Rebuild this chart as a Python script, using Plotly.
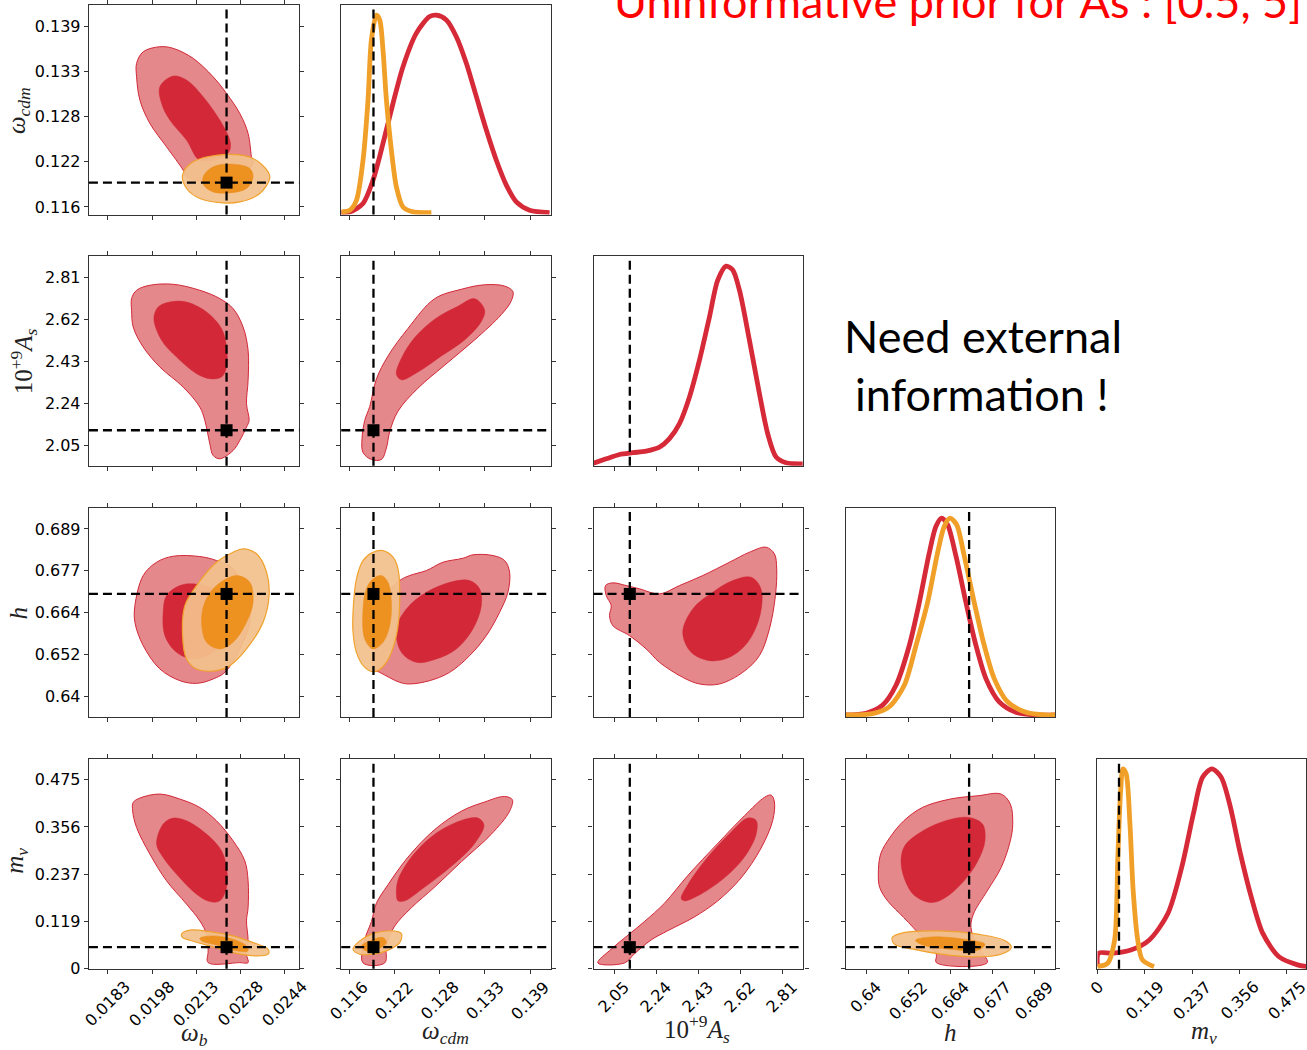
import plotly.graph_objects as go

W, H = 1307, 1050
# vertical extent used to convert pixel rows into paper fractions
H_DRAW = 1039

# ---------------- parameter axes: ticks, labels, fiducial values ----------------
WB_TICKS = [0.01832, 0.019833, 0.021346, 0.022859, 0.024372]
WB_LABELS = ["0.0183", "0.0198", "0.0213", "0.0228", "0.0244"]
WCDM_TICKS = [0.116, 0.12175, 0.1275, 0.13325, 0.139]
WCDM_LABELS = ["0.116", "0.122", "0.128", "0.133", "0.139"]
AS_TICKS = [2.05, 2.24, 2.43, 2.62, 2.81]
AS_LABELS = ["2.05", "2.24", "2.43", "2.62", "2.81"]
H_TICKS = [0.64, 0.65225, 0.6645, 0.67675, 0.689]
H_LABELS = ["0.64", "0.652", "0.664", "0.677", "0.689"]
MNU_TICKS = [0.0, 0.11875, 0.2375, 0.35625, 0.475]
MNU_LABELS = ["0", "0.119", "0.237", "0.356", "0.475"]

FIDUCIAL = {"wb": 0.02238, "wcdm": 0.1191, "As": 2.12, "h": 0.67, "mnu": 0.054}

# axis ranges (x for columns, y for rows)
X_RANGE = {"wb": [0.01767, 0.024868], "wcdm": [0.115011, 0.141662],
           "As": [1.95602, 2.90488], "h": [0.634021, 0.695126], "mnu": [0.0, 0.5229]}
Y_RANGE = {"wcdm": [0.115029, 0.141735], "As": [1.95952, 2.90636],
           "h": [0.634065, 0.695051], "mnu": [0.0, 0.52683]}
PDF_RANGE = [-0.01, 1.05]

# ---------------- 2-D credible regions (outer = 95%, inner = 68%) ----------------
# omega_b vs omega_cdm
wb_wcdm_red95_x = [0.019301, 0.019527, 0.020098, 0.020553, 0.021236, 0.02192, 0.022378, 0.022833, 0.023117,
                   0.023233, 0.023288, 0.022594, 0.021011, 0.020895, 0.020327, 0.019756, 0.019414, 0.019301]
wb_wcdm_red95_y = [0.134324, 0.135806, 0.136445, 0.13624, 0.134963, 0.132611, 0.13049, 0.127935, 0.125379,
                   0.122389, 0.121546, 0.119412, 0.119833, 0.120689, 0.123667, 0.126657, 0.129634, 0.132611]
wb_wcdm_red68_x = [0.020098, 0.020553, 0.021011, 0.021578, 0.022149, 0.022491, 0.022491, 0.022262, 0.021465,
                   0.021011, 0.02044, 0.020156]
wb_wcdm_red68_y = [0.131333, 0.132701, 0.13219, 0.130056, 0.127079, 0.124523, 0.123245, 0.122389, 0.121967,
                   0.124523, 0.127079, 0.129212]
wb_wcdm_ora95_x = [0.020874, 0.021236, 0.022378, 0.023288, 0.023801, 0.023859, 0.023517, 0.022833, 0.022262,
                   0.021465, 0.021011]
wb_wcdm_ora95_y = [0.120051, 0.12175, 0.122696, 0.122184, 0.120472, 0.119629, 0.117712, 0.116639, 0.116511,
                   0.117073, 0.118351]
wb_wcdm_ora68_x = [0.021578, 0.02192, 0.022604, 0.023175, 0.023288, 0.023062, 0.022491, 0.02192, 0.021602]
wb_wcdm_ora68_y = [0.119833, 0.121111, 0.121456, 0.120907, 0.119833, 0.118351, 0.117789, 0.117917, 0.118773]

# omega_b vs 10^9 A_s
wb_as_red95_x = [0.01913, 0.019301, 0.019756, 0.020553, 0.021465, 0.022149, 0.022604, 0.022946, 0.023117,
                 0.023117, 0.023062, 0.023151, 0.023062, 0.022833, 0.022604, 0.022149, 0.02192, 0.021807,
                 0.021636, 0.021465, 0.020895, 0.020098, 0.019527, 0.019185, 0.01913]
wb_as_red95_y = [2.715, 2.7525, 2.7752, 2.7797, 2.7525, 2.715, 2.6698, 2.5865, 2.4811, 2.3454, 2.24, 2.1645,
                 2.1341, 2.074, 2.0287, 1.9912, 2.0061, 2.059, 2.1645, 2.2246, 2.3151, 2.4056, 2.496, 2.5865,
                 2.6621]
wb_as_red68_x = [0.019893, 0.02004, 0.02044, 0.021011, 0.021695, 0.022207, 0.022378, 0.022378, 0.022207,
                 0.021807, 0.021353, 0.020669, 0.020156]
wb_as_red68_y = [2.6245, 2.677, 2.6996, 2.6996, 2.6544, 2.5793, 2.496, 2.4056, 2.3603, 2.3531, 2.3757,
                 2.4508, 2.5264]

# omega_cdm vs 10^9 A_s
wcdm_as_red95_x = [0.117775, 0.11884, 0.120108, 0.120742, 0.12116, 0.122213, 0.124749, 0.128134, 0.131937,
                   0.135323, 0.136591, 0.136794, 0.135741, 0.133205, 0.130251, 0.126866, 0.123481, 0.120945,
                   0.119474, 0.118625, 0.117991, 0.117648]
wcdm_as_red95_y = [2.0192, 1.988, 1.988, 2.04, 2.1129, 2.2061, 2.3101, 2.4142, 2.5282, 2.6426, 2.705, 2.7467,
                   2.7715, 2.7774, 2.7571, 2.7146, 2.5802, 2.4553, 2.3517, 2.2269, 2.1645, 2.0817]
wcdm_as_red68_x = [0.12201, 0.122644, 0.12433, 0.126866, 0.12982, 0.131937, 0.133205, 0.132787, 0.13067,
                   0.127715, 0.124749, 0.122644]
wcdm_as_red68_y = [2.3725, 2.4449, 2.5386, 2.6218, 2.6802, 2.7146, 2.6634, 2.6114, 2.5282, 2.4553, 2.383,
                   2.3477]

# omega_b vs h
wb_h_red95_x = [0.019243, 0.019527, 0.019985, 0.020553, 0.021465, 0.022036, 0.022604, 0.023062, 0.023175,
                0.022378, 0.02192, 0.021353, 0.020782, 0.020098, 0.019527, 0.019243]
wb_h_red95_y = [0.6666, 0.67538, 0.67926, 0.68102, 0.68093, 0.67976, 0.67733, 0.66953, 0.66172, 0.6476,
                0.64517, 0.64389, 0.64468, 0.6481, 0.65491, 0.66172]
wb_h_red68_x = [0.020211, 0.020327, 0.020782, 0.021236, 0.02192, 0.022378, 0.022491, 0.02192, 0.021236,
                0.020669, 0.020269]
wb_h_red68_y = [0.66465, 0.66953, 0.67245, 0.67295, 0.67149, 0.6666, 0.65979, 0.65295, 0.65102, 0.65295,
                0.65783]
wb_h_ora95_x = [0.020874, 0.020953, 0.021353, 0.022036, 0.022604, 0.022946, 0.023404, 0.02375, 0.023835,
                0.02363, 0.023062, 0.022491, 0.022036, 0.021353, 0.021011]
wb_h_ora95_y = [0.65783, 0.6666, 0.67245, 0.67926, 0.68219, 0.68318, 0.68172, 0.67634, 0.66953, 0.66172,
                0.65395, 0.64906, 0.6476, 0.6481, 0.65102]
wb_h_ora68_x = [0.021524, 0.021636, 0.022036, 0.02272, 0.023175, 0.023288, 0.023062, 0.022604, 0.022149,
                0.021695]
wb_h_ora68_y = [0.66172, 0.66757, 0.67245, 0.67538, 0.67342, 0.66757, 0.66172, 0.65588, 0.65395, 0.65588]

# omega_cdm vs h
wcdm_h_red95_x = [0.119892, 0.122428, 0.123696, 0.126232, 0.128768, 0.131303, 0.133421, 0.135107, 0.13616,
                  0.136375, 0.135741, 0.134258, 0.131722, 0.130454, 0.127918, 0.125814, 0.123696, 0.122428,
                  0.120742, 0.119474, 0.119043]
wcdm_h_red95_y = [0.6471, 0.64418, 0.64371, 0.64468, 0.6471, 0.65199, 0.65783, 0.66465, 0.67049, 0.67634,
                  0.67976, 0.68122, 0.68143, 0.68043, 0.67926, 0.67684, 0.67538, 0.67391, 0.66953, 0.65491,
                  0.6481]
wcdm_h_red68_x = [0.12201, 0.123278, 0.125814, 0.129186, 0.131303, 0.132571, 0.132787, 0.131722, 0.129617,
                  0.127081, 0.124546, 0.122644]
wcdm_h_red68_y = [0.65979, 0.66564, 0.67049, 0.67362, 0.67391, 0.67149, 0.6666, 0.65979, 0.65395, 0.65102,
                  0.65003, 0.65295]
wcdm_h_ora95_x = [0.116507, 0.116938, 0.117775, 0.119043, 0.120311, 0.121579, 0.122213, 0.122428, 0.12201,
                  0.120742, 0.119259, 0.117991, 0.116938, 0.116507]
wcdm_h_ora95_y = [0.66465, 0.67441, 0.67976, 0.68219, 0.68268, 0.68073, 0.67733, 0.66757, 0.65783, 0.65003,
                  0.64731, 0.64857, 0.65295, 0.6588]
wcdm_h_ora68_x = [0.117775, 0.118206, 0.119043, 0.120108, 0.120945, 0.121376, 0.12116, 0.120311, 0.119043,
                  0.117991]
wcdm_h_ora68_y = [0.66564, 0.67149, 0.67441, 0.67538, 0.67342, 0.66757, 0.66076, 0.65588, 0.65395, 0.65687]

# 10^9 A_s vs h
as_h_red95_x = [2.0102, 2.0432, 2.1038, 2.1639, 2.2542, 2.3446, 2.4499, 2.5705, 2.6609, 2.7363, 2.7739,
                2.7842, 2.7784, 2.7513, 2.7061, 2.6306, 2.5253, 2.435, 2.3595, 2.2542, 2.1941, 2.1187, 2.0432,
                2.0283, 2.036, 2.0134]
as_h_red95_y = [0.67245, 0.67324, 0.67245, 0.67149, 0.67003, 0.67245, 0.67538, 0.67926, 0.68219, 0.68365,
                0.68172, 0.67733, 0.66953, 0.65979, 0.65199, 0.6471, 0.64371, 0.64371, 0.64564, 0.65003,
                0.65395, 0.65783, 0.66076, 0.66368, 0.6666, 0.66953]
as_h_red68_x = [2.3595, 2.4047, 2.4951, 2.5854, 2.6686, 2.7129, 2.7084, 2.6532, 2.5705, 2.4802, 2.3975]
as_h_red68_y = [0.6588, 0.66564, 0.67049, 0.67391, 0.67488, 0.67149, 0.66368, 0.65588, 0.65149, 0.65052,
                0.65295]

# omega_b vs m_nu
wb_mnu_red95_x = [0.019185, 0.019414, 0.020098, 0.020782, 0.021465, 0.022036, 0.022604, 0.023004, 0.023117,
                  0.023117, 0.023062, 0.023117, 0.023062, 0.023117, 0.022833, 0.021749, 0.021749, 0.021695,
                  0.021465, 0.021011, 0.020327, 0.019756, 0.019301, 0.019165]
wb_mnu_red95_y = [0.41764, 0.42871, 0.43877, 0.42619, 0.40506, 0.3716, 0.32128, 0.27096, 0.22064, 0.15347,
                  0.12001, 0.06969, 0.03623, 0.0151, 0.0151, 0.0151, 0.04453, 0.08655, 0.12001, 0.16202,
                  0.22064, 0.28782, 0.35474, 0.39676]
wb_mnu_red68_x = [0.019985, 0.020211, 0.020553, 0.021011, 0.021695, 0.022207, 0.022378, 0.022378, 0.022149,
                  0.021807, 0.021353, 0.020669, 0.020211]
wb_mnu_red68_y = [0.31298, 0.3633, 0.37839, 0.3716, 0.33814, 0.29612, 0.25411, 0.20379, 0.17033, 0.16857,
                  0.18718, 0.2375, 0.27926]
wb_mnu_ora95_x = [0.02084, 0.021124, 0.021807, 0.022604, 0.023288, 0.023801, 0.023801, 0.023404, 0.022604,
                  0.021807, 0.021124, 0.020874]
wb_mnu_ora95_y = [0.08655, 0.09661, 0.09309, 0.08227, 0.06541, 0.04881, 0.03623, 0.03195, 0.04025, 0.05711,
                  0.07145, 0.07799]
wb_mnu_ora68_x = [0.021465, 0.02192, 0.022604, 0.023062, 0.023117, 0.022604, 0.022036, 0.021524]
wb_mnu_ora68_y = [0.07648, 0.08227, 0.07397, 0.05711, 0.04453, 0.04629, 0.05963, 0.06969]

# omega_cdm vs m_nu
wcdm_mnu_red95_x = [0.117775, 0.117991, 0.11884, 0.119474, 0.120945, 0.123481, 0.126866, 0.130251, 0.133205,
                    0.135741, 0.136718, 0.136375, 0.134055, 0.130251, 0.126866, 0.123912, 0.121794, 0.120742,
                    0.120526]
wcdm_mnu_red95_y = [0.01434, 0.07221, 0.1185, 0.16454, 0.21083, 0.28027, 0.34946, 0.39575, 0.4189, 0.43273,
                    0.42468, 0.39575, 0.33789, 0.2687, 0.20505, 0.15297, 0.10693, 0.06063, 0.01434]
wcdm_mnu_red68_x = [0.12201, 0.122213, 0.123912, 0.126866, 0.130251, 0.132356, 0.133117, 0.131937, 0.128983,
                    0.125598, 0.123062, 0.122213]
wcdm_mnu_red68_y = [0.18769, 0.2224, 0.28027, 0.33789, 0.3726, 0.37839, 0.36103, 0.31474, 0.25713, 0.20505,
                    0.17033, 0.17033]
wcdm_mnu_ora95_x = [0.116507, 0.117357, 0.119043, 0.121579, 0.122644, 0.122428, 0.120742, 0.119043, 0.117357]
wcdm_mnu_ora95_y = [0.04881, 0.06969, 0.08806, 0.09485, 0.08806, 0.06541, 0.04453, 0.03623, 0.03623]
wcdm_mnu_ora68_x = [0.117572, 0.118625, 0.120311, 0.120742, 0.119677, 0.118206]
wcdm_mnu_ora68_y = [0.05711, 0.06969, 0.07799, 0.06541, 0.04881, 0.04453]

# 10^9 A_s vs m_nu
as_mnu_red95_x = [1.9754, 2.036, 2.111, 2.1865, 2.2768, 2.3821, 2.5177, 2.6383, 2.7287, 2.7589, 2.7739,
                  2.7662, 2.7138, 2.6234, 2.5177, 2.4124, 2.2917, 2.2167, 2.1413, 2.0961]
as_mnu_red95_y = [0.01434, 0.04906, 0.08378, 0.1185, 0.16454, 0.23398, 0.31474, 0.38418, 0.43047, 0.43626,
                  0.4189, 0.3726, 0.30317, 0.22819, 0.17033, 0.13007, 0.09535, 0.07221, 0.03749, 0.01434]
as_mnu_red68_x = [2.3523, 2.3821, 2.4725, 2.5782, 2.6532, 2.6912, 2.6912, 2.6383, 2.5479, 2.4426, 2.3672]
as_mnu_red68_y = [0.17611, 0.21083, 0.28027, 0.34367, 0.37839, 0.3726, 0.33789, 0.28027, 0.22819, 0.18769,
                  0.17033]

# h vs m_nu
h_mnu_red95_x = [0.6435, 0.64417, 0.64688, 0.65094, 0.65636, 0.66447, 0.67258, 0.67935, 0.68203, 0.68273,
                 0.68203, 0.67935, 0.67529, 0.67124, 0.67054, 0.67238, 0.67529, 0.66042, 0.66042, 0.65636,
                 0.65094, 0.64621, 0.64391]
h_mnu_red95_y = [0.2375, 0.28782, 0.32958, 0.3716, 0.40506, 0.42619, 0.4345, 0.43877, 0.41361, 0.3633,
                 0.32128, 0.25411, 0.19549, 0.13686, 0.10315, 0.05711, 0.0151, 0.0151, 0.03623, 0.07799,
                 0.12831, 0.17033, 0.20379]
h_mnu_red68_x = [0.65027, 0.65094, 0.65499, 0.6631, 0.66987, 0.67392, 0.67462, 0.67258, 0.66853, 0.6631,
                 0.65905, 0.65365]
h_mnu_red68_y = [0.25411, 0.30442, 0.33814, 0.3716, 0.3799, 0.3633, 0.32128, 0.27096, 0.22064, 0.17863,
                 0.16605, 0.18718]
h_mnu_ora95_x = [0.64755, 0.65094, 0.66176, 0.67258, 0.68069, 0.68232, 0.67935, 0.67124, 0.66176, 0.65365,
                 0.64825]
h_mnu_ora95_y = [0.07799, 0.09057, 0.09485, 0.08655, 0.06969, 0.05283, 0.03623, 0.02944, 0.03623, 0.04881,
                 0.06139]
h_mnu_ora68_x = [0.65432, 0.65905, 0.66853, 0.67462, 0.67258, 0.66447, 0.65636]
h_mnu_ora68_y = [0.07145, 0.07975, 0.07397, 0.06139, 0.04629, 0.04881, 0.05963]

# ---------------- 1-D marginalised posteriors (normalised to peak = 1) ----------------
wcdm_red_x = [0.115011, 0.116089, 0.117775, 0.119043, 0.120311, 0.121579, 0.122847, 0.124546, 0.126232,
              0.127081, 0.128349, 0.129617, 0.130885, 0.132153, 0.133421, 0.134689, 0.135957, 0.137225,
              0.138911, 0.141447]
wcdm_red_p = [0.0, 0.003, 0.046, 0.164, 0.35, 0.553, 0.739, 0.909, 0.993, 1.0, 0.976, 0.891, 0.756, 0.587,
              0.418, 0.265, 0.139, 0.054, 0.012, 0.0]
wcdm_ora_x = [0.115036, 0.116089, 0.116938, 0.117775, 0.118409, 0.11884, 0.119474, 0.119892, 0.120311,
              0.120742, 0.121376, 0.12201, 0.122847, 0.124115, 0.126448]
wcdm_ora_p = [0.003, 0.012, 0.062, 0.265, 0.57, 0.875, 1.0, 0.976, 0.822, 0.57, 0.316, 0.13, 0.028, 0.003,
              0.0]

as_red_x = [1.956, 2.0134, 2.0735, 2.1336, 2.1941, 2.2542, 2.2994, 2.3446, 2.3898, 2.435, 2.4802, 2.5177,
            2.5556, 2.5854, 2.6157, 2.6609, 2.7061, 2.7436, 2.7815, 2.8267, 2.9017]
as_red_p = [0.003, 0.025, 0.047, 0.056, 0.064, 0.084, 0.127, 0.203, 0.338, 0.524, 0.743, 0.929, 1.0, 0.98,
            0.878, 0.625, 0.355, 0.152, 0.034, 0.005, 0.0]

h_red_x = [0.63408, 0.63991, 0.64475, 0.64866, 0.65254, 0.65546, 0.65838, 0.66033, 0.66196, 0.66371,
           0.66616, 0.66908, 0.672, 0.67491, 0.67879, 0.68366, 0.68949, 0.69512]
h_red_p = [0.0, 0.009, 0.05, 0.151, 0.353, 0.571, 0.824, 0.958, 1.0, 0.967, 0.807, 0.571, 0.353, 0.185,
           0.067, 0.014, 0.0, 0.0]
h_ora_x = [0.63408, 0.64184, 0.64671, 0.65108, 0.6545, 0.65788, 0.6608, 0.66275, 0.66441, 0.66634, 0.66858,
           0.6715, 0.67442, 0.67733, 0.68121, 0.68658, 0.69241, 0.69512]
h_ora_p = [0.0, 0.007, 0.042, 0.151, 0.353, 0.571, 0.824, 0.958, 1.0, 0.967, 0.807, 0.571, 0.353, 0.185,
           0.067, 0.014, 0.0, 0.0]

mnu_red_x = [0.0, 0.003, 0.03708, 0.08368, 0.13003, 0.17662, 0.21145, 0.24051, 0.26356, 0.28686, 0.31016,
             0.33346, 0.3565, 0.38557, 0.41463, 0.45522, 0.50181, 0.5251]
mnu_red_p = [0.0, 0.068, 0.068, 0.084, 0.135, 0.269, 0.504, 0.773, 0.958, 1.0, 0.958, 0.806, 0.588, 0.353,
             0.168, 0.05, 0.009, 0.0]
mnu_ora_x = [0.0, 0.02555, 0.04309, 0.05111, 0.05812, 0.06389, 0.0719, 0.08142, 0.08944, 0.10096, 0.11274,
             0.1418]
mnu_ora_p = [0.0, 0.017, 0.135, 0.554, 0.89, 1.0, 0.975, 0.723, 0.387, 0.135, 0.034, 0.0]

# ---------------- styling ----------------
RED_OUT = "rgb(228,136,140)"
RED_IN = "rgb(210,40,55)"
RED_EDGE = "rgb(210,40,55)"
ORA_OUT = "rgba(243,193,140,0.93)"
ORA_IN = "rgba(236,142,26,0.95)"
ORA_EDGE = "rgb(240,162,45)"
LINE_RED = "rgb(214,42,56)"
LINE_ORA = "rgb(240,160,40)"
FRAME = "#333333"
TICK_FONT = dict(family="DejaVu Sans", size=16, color="black")
MATH_FONT = dict(family="Liberation Serif", size=25, color="#222222")

COL_PARAMS = ["wb", "wcdm", "As", "h", "mnu"]
ROW_PARAMS = ["wcdm", "As", "h", "mnu"]
TICKS = {"wb": (WB_TICKS, WB_LABELS), "wcdm": (WCDM_TICKS, WCDM_LABELS), "As": (AS_TICKS, AS_LABELS),
         "h": (H_TICKS, H_LABELS), "mnu": (MNU_TICKS, MNU_LABELS)}
LABELS = {"wb": "<i>ω</i><sub><i>b</i></sub>", "wcdm": "<i>ω</i><sub><i>cdm</i></sub>",
          "As": "10<sup>+9</sup><i>A</i><sub><i>s</i></sub>", "h": "<i>h</i>",
          "mnu": "<i>m</i><sub><i>ν</i></sub>"}

# panel frames in pixels
COL_PX = [(89, 299.5), (341.5, 551.7), (594, 804), (846.5, 1056), (1098.3, 1307)]
ROW_PX = [(5.3, 214.3), (256, 465.3), (507.7, 716.3), (758.3, 967.7)]

CONTOURS = {
    ("wb", "wcdm"): [(wb_wcdm_red95_x, wb_wcdm_red95_y, "r95"), (wb_wcdm_red68_x, wb_wcdm_red68_y, "r68"),
                     (wb_wcdm_ora95_x, wb_wcdm_ora95_y, "o95"), (wb_wcdm_ora68_x, wb_wcdm_ora68_y, "o68")],
    ("wb", "As"): [(wb_as_red95_x, wb_as_red95_y, "r95"), (wb_as_red68_x, wb_as_red68_y, "r68")],
    ("wcdm", "As"): [(wcdm_as_red95_x, wcdm_as_red95_y, "r95"), (wcdm_as_red68_x, wcdm_as_red68_y, "r68")],
    ("wb", "h"): [(wb_h_red95_x, wb_h_red95_y, "r95"), (wb_h_red68_x, wb_h_red68_y, "r68"),
                  (wb_h_ora95_x, wb_h_ora95_y, "o95"), (wb_h_ora68_x, wb_h_ora68_y, "o68")],
    ("wcdm", "h"): [(wcdm_h_red95_x, wcdm_h_red95_y, "r95"), (wcdm_h_red68_x, wcdm_h_red68_y, "r68"),
                    (wcdm_h_ora95_x, wcdm_h_ora95_y, "o95"), (wcdm_h_ora68_x, wcdm_h_ora68_y, "o68")],
    ("As", "h"): [(as_h_red95_x, as_h_red95_y, "r95"), (as_h_red68_x, as_h_red68_y, "r68")],
    ("wb", "mnu"): [(wb_mnu_red95_x, wb_mnu_red95_y, "r95"), (wb_mnu_red68_x, wb_mnu_red68_y, "r68"),
                    (wb_mnu_ora95_x, wb_mnu_ora95_y, "o95"), (wb_mnu_ora68_x, wb_mnu_ora68_y, "o68")],
    ("wcdm", "mnu"): [(wcdm_mnu_red95_x, wcdm_mnu_red95_y, "r95"), (wcdm_mnu_red68_x, wcdm_mnu_red68_y, "r68"),
                      (wcdm_mnu_ora95_x, wcdm_mnu_ora95_y, "o95"), (wcdm_mnu_ora68_x, wcdm_mnu_ora68_y, "o68")],
    ("As", "mnu"): [(as_mnu_red95_x, as_mnu_red95_y, "r95"), (as_mnu_red68_x, as_mnu_red68_y, "r68")],
    ("h", "mnu"): [(h_mnu_red95_x, h_mnu_red95_y, "r95"), (h_mnu_red68_x, h_mnu_red68_y, "r68"),
                   (h_mnu_ora95_x, h_mnu_ora95_y, "o95"), (h_mnu_ora68_x, h_mnu_ora68_y, "o68")],
}
POSTERIORS = {
    "wcdm": [(wcdm_red_x, wcdm_red_p, LINE_RED), (wcdm_ora_x, wcdm_ora_p, LINE_ORA)],
    "As": [(as_red_x, as_red_p, LINE_RED)],
    "h": [(h_red_x, h_red_p, LINE_RED), (h_ora_x, h_ora_p, LINE_ORA)],
    "mnu": [(mnu_red_x, mnu_red_p, LINE_RED), (mnu_ora_x, mnu_ora_p, LINE_ORA)],
}
STYLE = {"r95": (RED_OUT, RED_EDGE, 1.0), "r68": (RED_IN, RED_IN, 0.5),
         "o95": (ORA_OUT, ORA_EDGE, 1.2), "o68": (ORA_IN, ORA_IN, 0.5)}

DASH = dict(color="black", width=2.3, dash="9px,5px")


def xdom(c):
    a, b = COL_PX[c]
    return [a / W, min(b / W, 1.0)]


def ydom(r):
    a, b = ROW_PX[r]
    return [1 - b / H_DRAW, 1 - a / H_DRAW]


def py(p):
    return 1 - p / H_DRAW


fig = go.Figure()
layout = dict(width=W, height=H, margin=dict(l=0, r=0, t=0, b=0), paper_bgcolor="white",
              plot_bgcolor="white", showlegend=False)
shapes, annotations = [], []

k = 0
for r, yp in enumerate(ROW_PARAMS):
    for c, xp in enumerate(COL_PARAMS):
        if c > r + 1:
            continue
        k += 1
        suffix = "" if k == 1 else str(k)
        xa, ya = "x" + suffix, "y" + suffix
        xname, yname = "xaxis" + suffix, "yaxis" + suffix
        diag = (c == r + 1)
        tv, tt = TICKS[xp]
        layout[xname] = dict(domain=xdom(c), anchor=ya, range=X_RANGE[xp], tickvals=tv, ticktext=tt,
                             showticklabels=False, ticks="outside", ticklen=4, tickwidth=1.2,
                             tickcolor=FRAME, showline=True, linecolor=FRAME, linewidth=1.4,
                             mirror=True if diag else "ticks", showgrid=False, zeroline=False)
        if diag:
            layout[yname] = dict(domain=ydom(r), anchor=xa, range=PDF_RANGE, showticklabels=False,
                                 ticks="", showline=True, linecolor=FRAME, linewidth=1.4, mirror=True,
                                 showgrid=False, zeroline=False)
            for px_, py_, col in POSTERIORS[xp]:
                fig.add_trace(go.Scatter(x=px_, y=py_, mode="lines", xaxis=xa, yaxis=ya, hoverinfo="skip",
                                         line=dict(color=col, width=4.8, shape="spline", smoothing=0.8)))
            shapes.append(dict(type="line", xref=xa, yref=ya + " domain", x0=FIDUCIAL[xp], x1=FIDUCIAL[xp],
                               y0=0, y1=1, line=DASH))
        else:
            tvy, tty = TICKS[yp]
            layout[yname] = dict(domain=ydom(r), anchor=xa, range=Y_RANGE[yp], tickvals=tvy, ticktext=tty,
                                 showticklabels=(c == 0), tickfont=TICK_FONT, ticks="outside", ticklen=4,
                                 tickwidth=1.2, tickcolor=FRAME, showline=True, linecolor=FRAME,
                                 linewidth=1.4, mirror="ticks", showgrid=False, zeroline=False)
            for cx, cy, kind in CONTOURS[(xp, yp)]:
                fill, edge, w = STYLE[kind]
                fig.add_trace(go.Scatter(x=cx + cx[:1], y=cy + cy[:1], mode="lines", fill="toself",
                                         fillcolor=fill, xaxis=xa, yaxis=ya, hoverinfo="skip",
                                         line=dict(color=edge, width=w, shape="spline", smoothing=1.0)))
            shapes.append(dict(type="line", xref=xa, yref=ya + " domain", x0=FIDUCIAL[xp], x1=FIDUCIAL[xp],
                               y0=0, y1=1, line=DASH))
            shapes.append(dict(type="line", xref=xa + " domain", yref=ya, x0=0, x1=1, y0=FIDUCIAL[yp],
                               y1=FIDUCIAL[yp], line=DASH))
            fig.add_trace(go.Scatter(x=[FIDUCIAL[xp]], y=[FIDUCIAL[yp]], mode="markers", xaxis=xa, yaxis=ya,
                                     hoverinfo="skip", cliponaxis=False,
                                     marker=dict(symbol="square", size=12, color="black")))
        # rotated tick labels under the bottom row
        if r == len(ROW_PARAMS) - 1:
            for v, t in zip(tv, tt):
                annotations.append(dict(text=t, x=v, xref=xa, y=0, yref=ya + " domain", yshift=-6,
                                        xanchor="center", yanchor="top", textangle=-45, showarrow=False,
                                        font=TICK_FONT))

# axis titles
X_TITLE_PX = {"wb": (195, 1034), "wcdm": (446, 1032), "As": (698, 1028), "h": (951, 1032), "mnu": (1205, 1032)}
Y_TITLE_PX = {"wcdm": (18, 110), "As": (24, 361), "h": (19, 612), "mnu": (17, 860)}
for p, (x, y) in X_TITLE_PX.items():
    annotations.append(dict(text=LABELS[p], x=x / W, y=py(y), xref="paper", yref="paper",
                            xanchor="center", yanchor="middle", showarrow=False, font=MATH_FONT))
for p, (x, y) in Y_TITLE_PX.items():
    annotations.append(dict(text=LABELS[p], x=x / W, y=py(y), xref="paper", yref="paper",
                            xanchor="center", yanchor="middle", textangle=-90, showarrow=False,
                            font=MATH_FONT))

# headline and remark
annotations.append(dict(text="Uninformative prior for As : [0.5, 5]", x=959 / W, y=py(1),
                        xref="paper", yref="paper", xanchor="center", yanchor="middle", showarrow=False,
                        font=dict(family="Lato", size=45, color="#ff0000")))
annotations.append(dict(text="Need external", x=983.5 / W, y=py(336), xref="paper", yref="paper",
                        xanchor="center", yanchor="middle", showarrow=False,
                        font=dict(family="Lato", size=45, color="black")))
annotations.append(dict(text="information !", x=983 / W, y=py(394), xref="paper", yref="paper",
                        xanchor="center", yanchor="middle", showarrow=False,
                        font=dict(family="Lato", size=45, color="black")))

layout["shapes"] = shapes
layout["annotations"] = annotations
fig.update_layout(**layout)
fig.write_html("out.html")
